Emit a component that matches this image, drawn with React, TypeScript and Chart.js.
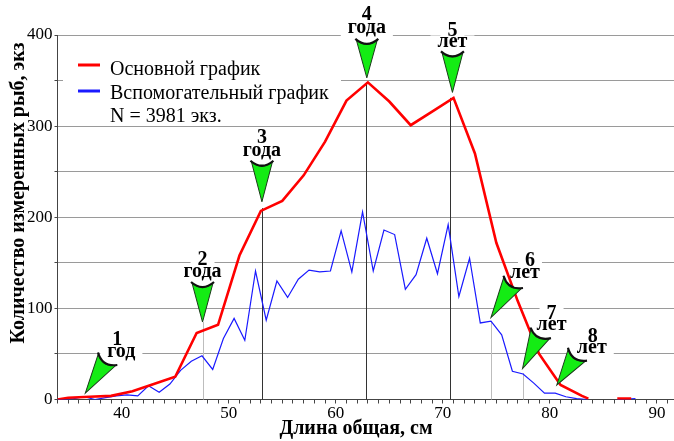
import React, { useEffect, useRef } from 'react';
import { Chart, registerables } from 'chart.js';

Chart.register(...registerables);

// ---- data ----
const mainX = [34, 35, 37, 39, 41, 43, 45, 47, 49, 51, 53, 55, 57, 59, 61, 63, 65, 67, 69, 71, 73, 75, 77, 79, 81, 83, 83.6, 85, 86.3, 87.6];
const mainY = [0, 2, 3, 4, 9, 17, 25, 73, 82, 158, 207, 218, 246, 283, 328, 348, 327, 301, 316, 331, 270, 172, 108, 50, 16, 4, 1, null, 1, 1];

const auxX = [34, 34.5, 35.5, 36.5, 37.5, 38.5, 39.5, 40.5, 41.5, 42.5, 43.5, 44.5, 45.5, 46.5, 47.5, 48.5, 49.5, 50.5, 51.5, 52.5, 53.5, 54.5, 55.5, 56.5, 57.5, 58.5, 59.5, 60.5, 61.5, 62.5, 63.5, 64.5, 65.5, 66.5, 67.5, 68.5, 69.5, 70.5, 71.5, 72.5, 73.5, 74.5, 75.5, 76.5, 77.5, 78.5, 79.5, 80.5, 81.5, 82.5, 83.5, 85, 86.3, 88];
const auxY = [0, 0, 1, 3, 0, 2, 4, 5, 4, 15, 8, 17, 32, 42, 48, 33, 67, 89, 65, 141, 87, 130, 112, 132, 142, 140, 141, 185, 140, 206, 141, 186, 181, 121, 137, 177, 138, 192, 113, 155, 84, 86, 71, 31, 28, 18, 7, 7, 3, 1, 0, null, 0, 1];

const seriesNames = ['Основной график', 'Вспомогательный график'];
const sampleNote = 'N = 3981 экз.';
const xTitle = 'Длина общая, см';
const yTitle = 'Количество измеренных рыб, экз';

// age markers
const ageNumbers = ['1', '2', '3', '4', '5', '6', '7', '8'];
const ageWords = ['год', 'года', 'года', 'года', 'лет', 'лет', 'лет', 'лет'];
const tipX = [36.6, 47.55, 53.1, 62.9, 70.9, 74.5, 77.45, 80.65];
const tipY = [7, 85, 217, 353, 337, 90, 34, 16];
const stemX = [null, 47.55, 53.1, 62.85, 70.65, 74.5, 77.45, null];
const stemTop = [null, 85, 210, 348, 331, 86, 29, null];

// ---- styles ----
const SERIF = "'Liberation Serif', 'Times New Roman', Times, serif";
const stemColor = [null, '#bdbdbd', '#333333', '#333333', '#333333', '#bdbdbd', '#bdbdbd', null];
const arrowAngle = [33, 0, 0, 0, 0, 32, 27, 34];
const arrowLen = [40, 39, 40, 38, 40, 41, 39, 36];
const numOffset = [[32, -53], [0, -62], [0, -64], [0, -63], [0, -62], [39, -57], [29, -55], [36, -48]];
const wordOffset = [[36, -39], [0, -48], [0, -49], [0, -48], [0, -49], [34, -43], [29, -42], [35, -35]];

const overlay = {
  id: 'overlay',
  beforeDatasetsDraw(chart: any) {
    const ctx = chart.ctx as CanvasRenderingContext2D;
    const xs = chart.scales.x;
    const ys = chart.scales.y;
    ctx.save();
    ctx.fillStyle = '#ffffff';
    ctx.fillRect(63, 40, 278, 83);
    for (let i = 0; i < ageNumbers.length; i++) {
      const tx = xs.getPixelForValue(tipX[i]);
      const ty = ys.getPixelForValue(tipY[i]);
      ctx.font = `bold 20px ${SERIF}`;
      const wn = ctx.measureText(ageNumbers[i]).width;
      const ww = ctx.measureText(ageWords[i]).width;
      ctx.fillStyle = '#ffffff';
      ctx.fillRect(tx + numOffset[i][0] - wn / 2 - 7, ty + numOffset[i][1] - 8, wn + 14, 15);
      ctx.fillRect(tx + wordOffset[i][0] - ww / 2 - 7, ty + wordOffset[i][1] - 8, ww + 14, 15);
    }
    for (let i = 0; i < ageNumbers.length; i++) {
      if (stemX[i] == null) continue;
      const sx = Math.round(xs.getPixelForValue(stemX[i] as number)) + 0.5;
      ctx.strokeStyle = stemColor[i] as string;
      ctx.lineWidth = 1;
      ctx.beginPath();
      ctx.moveTo(sx, ys.getPixelForValue(0));
      ctx.lineTo(sx, ys.getPixelForValue(stemTop[i] as number));
      ctx.stroke();
    }
    ctx.restore();
  },
  afterDatasetsDraw(chart: any) {
    const ctx = chart.ctx as CanvasRenderingContext2D;
    const xs = chart.scales.x;
    const ys = chart.scales.y;
    ctx.save();
    ctx.lineWidth = 3;
    ctx.strokeStyle = '#ff0000';
    ctx.beginPath(); ctx.moveTo(78, 65); ctx.lineTo(100, 65); ctx.stroke();
    ctx.strokeStyle = '#1a1aff';
    ctx.beginPath(); ctx.moveTo(78, 91); ctx.lineTo(100, 91); ctx.stroke();
    ctx.fillStyle = '#000';
    ctx.font = `normal 20px ${SERIF}`;
    ctx.textAlign = 'left';
    ctx.textBaseline = 'alphabetic';
    ctx.fillText(seriesNames[0], 110, 75);
    ctx.fillText(seriesNames[1], 110, 98.5);
    ctx.fillText(sampleNote, 110, 122);

    for (let i = 0; i < ageNumbers.length; i++) {
      const tx = xs.getPixelForValue(tipX[i]);
      const ty = ys.getPixelForValue(tipY[i]);
      const L = arrowLen[i];
      const w = 10.5;
      ctx.save();
      ctx.translate(tx, ty);
      ctx.rotate((arrowAngle[i] * Math.PI) / 180);
      ctx.beginPath();
      ctx.moveTo(-w, -L);
      ctx.quadraticCurveTo(0, -L + 9, w, -L);
      ctx.lineTo(0, 0);
      ctx.closePath();
      ctx.fillStyle = '#14ec14';
      ctx.fill();
      ctx.lineWidth = 1;
      ctx.strokeStyle = '#1a3a1a';
      ctx.stroke();
      ctx.beginPath();
      ctx.moveTo(-w - 1, -L - 1);
      ctx.quadraticCurveTo(0, -L + 9, w + 1, -L - 1);
      ctx.lineWidth = 2.2;
      ctx.strokeStyle = '#111';
      ctx.stroke();
      ctx.restore();

      ctx.fillStyle = '#000';
      ctx.textAlign = 'center';
      ctx.textBaseline = 'middle';
      ctx.font = `bold 20px ${SERIF}`;
      ctx.fillText(ageNumbers[i], tx + numOffset[i][0], ty + numOffset[i][1]);
      ctx.fillText(ageWords[i], tx + wordOffset[i][0], ty + wordOffset[i][1] - 2);
    }
    ctx.restore();
  },
  afterDraw(chart: any) {
    const ctx = chart.ctx as CanvasRenderingContext2D;
    ctx.save();
    ctx.fillStyle = '#000';
    ctx.font = `bold 20px ${SERIF}`;
    ctx.textAlign = 'center';
    ctx.textBaseline = 'middle';
    ctx.fillText(xTitle, 356, 429);
    ctx.translate(19, 193);
    ctx.rotate(-Math.PI / 2);
    ctx.fillText(yTitle, 0, 0);
    ctx.restore();
  },
};

export default function App() {
  const ref = useRef<HTMLCanvasElement | null>(null);
  useEffect(() => {
    if (!ref.current) return;
    const chart = new Chart(ref.current, {
      type: 'line',
      data: {
        datasets: [
          {
            label: seriesNames[0],
            data: mainX.map((x, i) => ({ x, y: mainY[i] })) as any,
            borderColor: '#ff0000',
            borderWidth: 2.6,
            pointRadius: 0,
            spanGaps: false,
            tension: 0,
          },
          {
            label: seriesNames[1],
            data: auxX.map((x, i) => ({ x, y: auxY[i] })) as any,
            borderColor: '#1a1aff',
            borderWidth: 1.2,
            pointRadius: 0,
            spanGaps: false,
            tension: 0,
          },
        ],
      },
      options: {
        animation: false,
        responsive: true,
        maintainAspectRatio: false,
        layout: { padding: { top: 35, right: 0, left: 0, bottom: 0 } },
        plugins: { legend: { display: false }, tooltip: { enabled: false } },
        scales: {
          x: {
            type: 'linear',
            min: 34,
            max: 91.6,
            ticks: {
              stepSize: 1,
              autoSkip: false,
              includeBounds: false,
              maxRotation: 0,
              padding: 0,
              color: '#000',
              font: { family: SERIF, size: 17, weight: 'normal' },
              callback: (v: any) => (Number(v) % 10 === 0 ? String(v) : ''),
            },
            grid: { drawOnChartArea: false, tickLength: 4, tickColor: '#444' },
            border: { color: '#444' },
            afterFit: (s: any) => { s.height = 41.5; },
          },
          y: {
            min: 0,
            max: 400,
            ticks: {
              stepSize: 50,
              padding: 2,
              color: '#000',
              font: { family: SERIF, size: 17, weight: 'normal' },
              callback: (v: any) => (Number(v) % 100 === 0 ? String(v) : ''),
            },
            grid: { color: '#9a9a9a', tickLength: 3, tickColor: '#444' },
            border: { color: '#444' },
            afterFit: (s: any) => { s.width = 57.5; },
          },
        },
      },
      plugins: [overlay],
    });
    return () => chart.destroy();
  }, []);
  return (
    <div style={{ position: 'absolute', left: 0, top: 0, width: 674, height: 441, background: '#fff' }}>
      <canvas ref={ref} />
    </div>
  );
}
